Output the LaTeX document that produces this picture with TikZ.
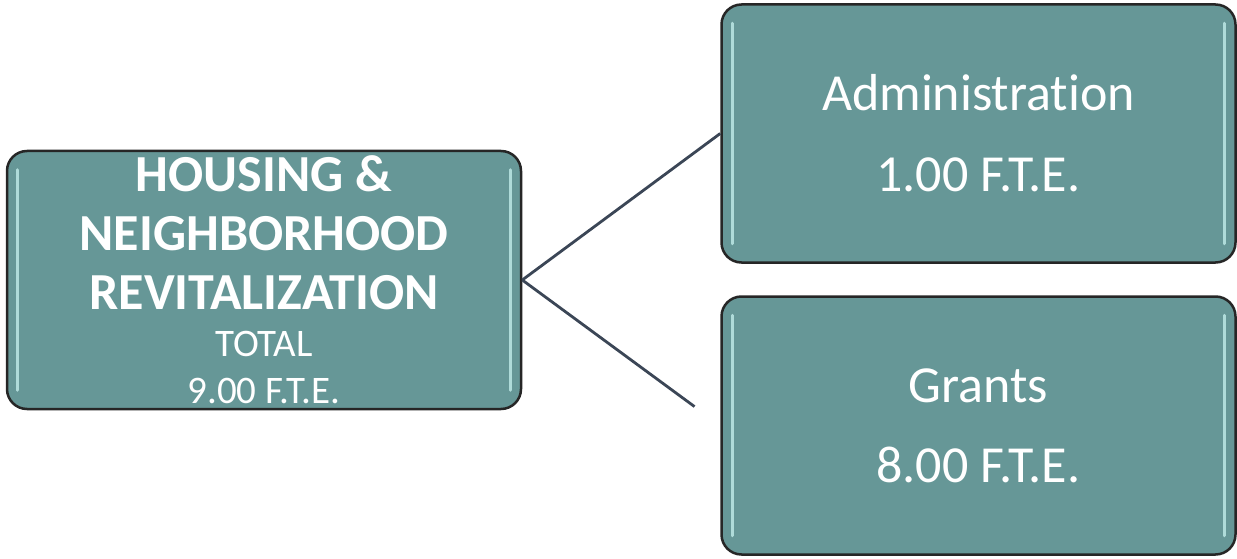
\documentclass[tikz,border=0pt]{standalone}
\usepackage{fontspec}
\setmainfont{Carlito}[Ligatures=NoCommon]
\usetikzlibrary{calc}
\definecolor{boxteal}{RGB}{102,151,151}
\definecolor{glint}{RGB}{200,242,240}
\definecolor{wire}{RGB}{59,70,86}

\begin{document}
\begin{tikzpicture}[x=1pt,y=-1pt,
  unit/.style={draw=black!85,line width=2.5pt,fill=boxteal,rounded corners=20pt,
    minimum width=514pt,minimum height=258pt,inner sep=0pt,text=white,
    text width=490pt,align=flush center},
  gloss/.style={glint,line width=3pt,line cap=round,opacity=.75},
  link/.style={wire,line width=2.8pt}]
  \useasboundingbox (0,0) rectangle (1237,559);

  % department and its two sections
  \node[unit,font=\fontsize{52}{59}\selectfont\bfseries] (hnr) at (264,280)
    {HOUSING \&\\ NEIGHBORHOOD\\ REVITALIZATION\par
     \fontsize{39}{47}\selectfont\mdseries TOTAL\\ 9.00 F.T.E.\par};
  \node[unit,font=\fontsize{52}{81}\selectfont] (admin) at (978.5,133.5)
    {Administration\\ 1.00 F.T.E.\par};
  \node[unit,font=\fontsize{52}{80}\selectfont] (grants) at (978.5,425.5)
    {Grants\\ 8.00 F.T.E.\par};

  % glassy edge highlights
  \foreach \b in {hnr,admin,grants}{
    \draw[gloss] ([xshift=12pt,yshift=-20pt]\b.north west)--([xshift=12pt,yshift=20pt]\b.south west);
    \draw[gloss] ([xshift=-12pt,yshift=-20pt]\b.north east)--([xshift=-12pt,yshift=20pt]\b.south east);
  }

  \draw[link] (hnr.east) -- (admin.west);
  \draw[link] (hnr.east) -- ($(hnr.east)!.87!(grants.west)$);
\end{tikzpicture}
\end{document}
